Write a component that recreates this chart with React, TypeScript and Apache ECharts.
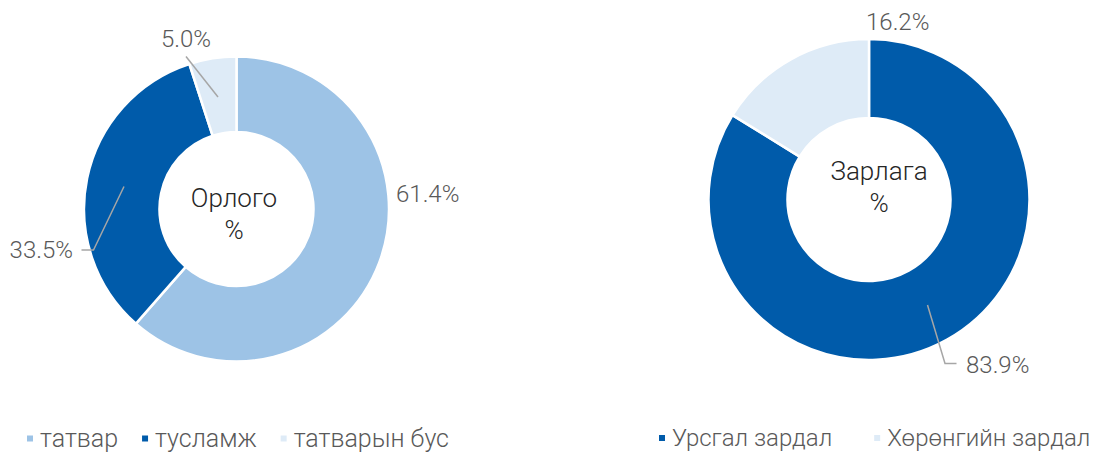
import React, { useEffect, useRef } from 'react';
import * as echarts from 'echarts';

// ---- data ----
const incomeCategories = ['татвар', 'тусламж', 'татварын бус'];
const incomeValues = [61.4, 33.5, 5.0];
const expenseCategories = ['Урсгал зардал', 'Хөрөнгийн зардал'];
const expenseValues = [83.9, 16.2];
const incomeTitle = 'Орлого\n%';
const expenseTitle = 'Зарлага\n%';

// ---- styles ----
const incomeColors = ['#9DC3E6', '#005BAA', '#DEEBF7'];
const expenseColors = ['#005BAA', '#DEEBF7'];
const FONT = 'Roboto';
const LABEL_COLOR = '#595959';
const LINE_COLOR = '#A6A6A6';

// label placement (layout only, px)
type LP = { x: number; y: number; align: string; line: number[][] | null };
const incomeLabelPos: LP[] = [
  { x: 396, y: 193.5, align: 'left', line: null },
  { x: 73, y: 250, align: 'right', line: [[124, 186.5], [93.5, 250], [81.5, 250]] },
  { x: 161, y: 39, align: 'left', line: [[186, 56.5], [218, 97]] },
];
const expenseLabelPos: LP[] = [
  { x: 966, y: 364.5, align: 'left', line: [[927.5, 305], [945, 363.5], [956.5, 363.5]] },
  { x: 866, y: 21.5, align: 'left', line: null },
];

function buildData(cats: string[], vals: number[], colors: string[]) {
  return cats.map((name, i) => ({
    name,
    value: vals[i],
    itemStyle: { color: colors[i] },
  }));
}

function makeLayout(pos: LP[]) {
  return (params: any) => {
    const p = pos[params.dataIndex];
    return { x: p.x, y: p.y, align: p.align, verticalAlign: 'middle' };
  };
}

function leaderLines(pos: LP[]) {
  return pos
    .filter((p) => p.line)
    .map((p) => ({
      type: 'polyline',
      z: 100,
      silent: true,
      shape: { points: p.line },
      style: { stroke: LINE_COLOR, lineWidth: 1.5, fill: 'none' },
    }));
}

const pieCommon = {
  type: 'pie',
  startAngle: 90,
  clockwise: true,
  avoidLabelOverlap: false,
  itemStyle: { borderColor: '#ffffff', borderWidth: 2.5 },
  label: {
    show: true,
    position: 'outside',
    formatter: (p: any) => p.value.toFixed(1) + '%',
    fontFamily: FONT,
    fontWeight: 300,
    fontSize: 24,
    color: LABEL_COLOR,
  },
  labelLine: { show: false },
  emphasis: { disabled: true },
};

export default function App() {
  const ref = useRef<HTMLDivElement>(null);
  useEffect(() => {
    if (!ref.current) return;
    const chart = echarts.init(ref.current, undefined, { renderer: 'svg' });
    const legendText = (size: number) => ({
      fontFamily: FONT,
      fontWeight: 300,
      fontSize: size,
      color: LABEL_COLOR,
      padding: [0, 0, 0, 1],
    });
    const titleStyle = {
      font: `300 26px ${FONT}`,
      fill: '#262626',
      textAlign: 'center',
      textVerticalAlign: 'middle',
      lineHeight: 32,
    };
    chart.setOption({
      animation: false,
      backgroundColor: '#ffffff',
      legend: [
        {
          data: incomeCategories,
          left: 25,
          top: 426,
          padding: 0,
          icon: 'rect',
          itemWidth: 8,
          itemHeight: 8,
          itemGap: 22,
          selectedMode: false,
          textStyle: legendText(25),
        },
        {
          data: expenseCategories,
          left: 657,
          top: 426,
          padding: 0,
          icon: 'rect',
          itemWidth: 8,
          itemHeight: 8,
          itemGap: 40,
          selectedMode: false,
          textStyle: legendText(24),
        },
      ],
      graphic: [
        { type: 'text', x: 234, y: 213.5, z: 100, style: { ...titleStyle, text: incomeTitle } },
        { type: 'text', x: 879, y: 187, z: 100, style: { ...titleStyle, text: expenseTitle } },
        ...leaderLines(incomeLabelPos),
        ...leaderLines(expenseLabelPos),
      ],
      series: [
        {
          ...pieCommon,
          name: 'Орлого',
          center: [236.5, 209],
          radius: [77, 152.5],
          data: buildData(incomeCategories, incomeValues, incomeColors),
          labelLayout: makeLayout(incomeLabelPos),
        },
        {
          ...pieCommon,
          name: 'Зарлага',
          center: [869, 199.5],
          radius: [81.5, 160.5],
          data: buildData(expenseCategories, expenseValues, expenseColors),
          labelLayout: makeLayout(expenseLabelPos),
        },
      ],
    });
    return () => chart.dispose();
  }, []);
  return (
    <div
      ref={ref}
      style={{ position: 'fixed', left: 0, top: 0, width: 1099, height: 452 }}
    />
  );
}
